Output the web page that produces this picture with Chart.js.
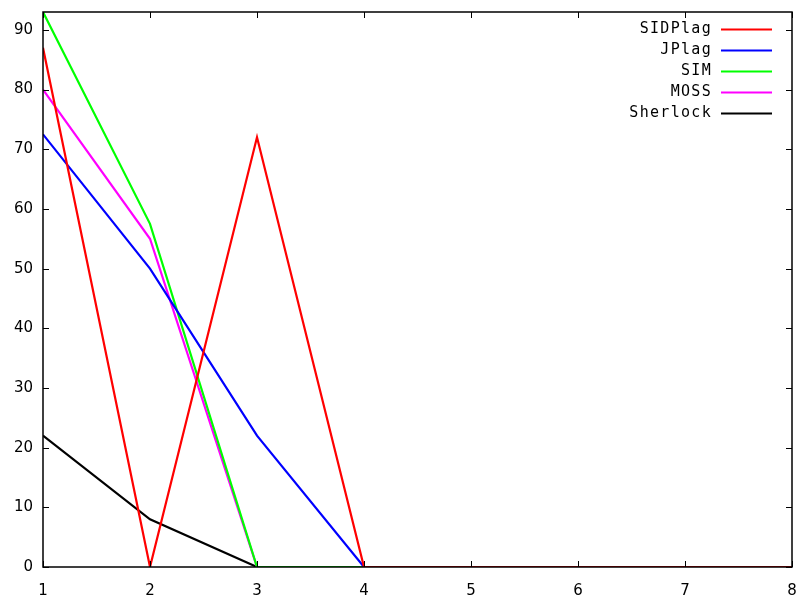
<!DOCTYPE html>
<html>
<head>
<meta charset="utf-8">
<script src="https://cdn.jsdelivr.net/npm/chart.js@4.4.1/dist/chart.umd.min.js"></script>
<style>
  html, body { margin: 0; padding: 0; background: #fff; }
  #wrap { width: 797px; height: 596px; }
</style>
</head>
<body>
<div id="wrap"><canvas id="plot"></canvas></div>
<script>
// x positions and series values
let xValues = [1, 2, 3, 4, 5, 6, 7, 8];
let sidplag = [87, 0, 72, 0, 0, 0, 0, 0];
let jplag = [72.5, 50, 22, 0, 0, 0, 0, 0];
let sim = [93, 57.5, 0, 0, 0, 0, 0, 0];
let moss = [80, 55, 0, 0, 0, 0, 0, 0];
let sherlock = [22, 8, 0, 0, 0, 0, 0, 0];
let yTicks = [0, 10, 20, 30, 40, 50, 60, 70, 80, 90];

function points(values) {
    return values.map((v, i) => ({ x: xValues[i], y: v }));
}

let series = [
    { label: "SIDPlag", values: sidplag, color: "#ff0000" },
    { label: "JPlag", values: jplag, color: "#0000ff" },
    { label: "SIM", values: sim, color: "#00ff00" },
    { label: "MOSS", values: moss, color: "#ff00ff" },
    { label: "Sherlock", values: sherlock, color: "#000000" }
];

// gnuplot style frame with inward ticks on all sides
let framePlugin = {
    id: 'frame',
    afterDatasetsDraw(chart) {
        let ctx = chart.ctx;
        let a = chart.chartArea;
        let xs = chart.scales.x;
        let ys = chart.scales.y;
        ctx.save();
        ctx.strokeStyle = '#000';
        ctx.lineWidth = 1;
        ctx.beginPath();
        xValues.forEach(v => {
            let px = Math.round(xs.getPixelForValue(v)) + 0.5;
            ctx.moveTo(px, a.bottom); ctx.lineTo(px, a.bottom - 6);
            ctx.moveTo(px, a.top); ctx.lineTo(px, a.top + 6);
        });
        yTicks.forEach(v => {
            let py = Math.round(ys.getPixelForValue(v)) + 0.5;
            ctx.moveTo(a.left, py); ctx.lineTo(a.left + 6, py);
            ctx.moveTo(a.right, py); ctx.lineTo(a.right - 6, py);
        });
        ctx.stroke();
        ctx.lineWidth = 1.5;
        ctx.strokeRect(a.left, a.top, a.right - a.left, a.bottom - a.top);
        ctx.restore();
    }
};

// key in the top right corner, text right aligned then a line sample
let keyPlugin = {
    id: 'key',
    afterDraw(chart) {
        let ctx = chart.ctx;
        ctx.save();
        ctx.font = '15px "DejaVu Sans Mono"';
        ctx.letterSpacing = '1.3px';
        ctx.textAlign = 'right';
        ctx.textBaseline = 'middle';
        chart.data.datasets.forEach((ds, i) => {
            let y = 29 + i * 21;
            ctx.fillStyle = '#000';
            ctx.fillText(ds.label, 712, y);
            ctx.strokeStyle = ds.borderColor;
            ctx.lineWidth = 2;
            ctx.beginPath();
            ctx.moveTo(721, y + 0.5);
            ctx.lineTo(772, y + 0.5);
            ctx.stroke();
        });
        ctx.restore();
    }
};

function noPadding(scale) {
    scale.paddingTop = 0;
    scale.paddingBottom = 0;
    scale.paddingLeft = 0;
    scale.paddingRight = 0;
}

new Chart(document.getElementById('plot'), {
    type: 'line',
    data: {
        datasets: series.map(s => ({
            label: s.label,
            data: points(s.values),
            borderColor: s.color,
            backgroundColor: s.color,
            borderWidth: 2.2,
            pointRadius: 0,
            tension: 0,
            fill: false
        }))
    },
    options: {
        responsive: true,
        maintainAspectRatio: false,
        animation: false,
        layout: { padding: { top: 12, right: 5, left: 0, bottom: 0 } },
        plugins: {
            legend: { display: false },
            tooltip: { enabled: false }
        },
        scales: {
            x: {
                type: 'linear',
                min: 1,
                max: 8,
                grid: { display: false, drawTicks: false },
                border: { display: false },
                afterFit(scale) { scale.height = 29; noPadding(scale); },
                ticks: {
                    stepSize: 1,
                    padding: 15,
                    color: '#000',
                    font: { family: 'DejaVu Sans', size: 15 }
                }
            },
            y: {
                type: 'linear',
                min: 0,
                max: 93,
                grid: { display: false, drawTicks: false },
                border: { display: false },
                afterFit(scale) { scale.width = 43; noPadding(scale); },
                afterBuildTicks(scale) {
                    scale.ticks = yTicks.map(v => ({ value: v }));
                },
                ticks: {
                    padding: 10,
                    color: '#000',
                    font: { family: 'DejaVu Sans', size: 15 }
                }
            }
        }
    },
    plugins: [framePlugin, keyPlugin]
});
</script>
</body>
</html>
